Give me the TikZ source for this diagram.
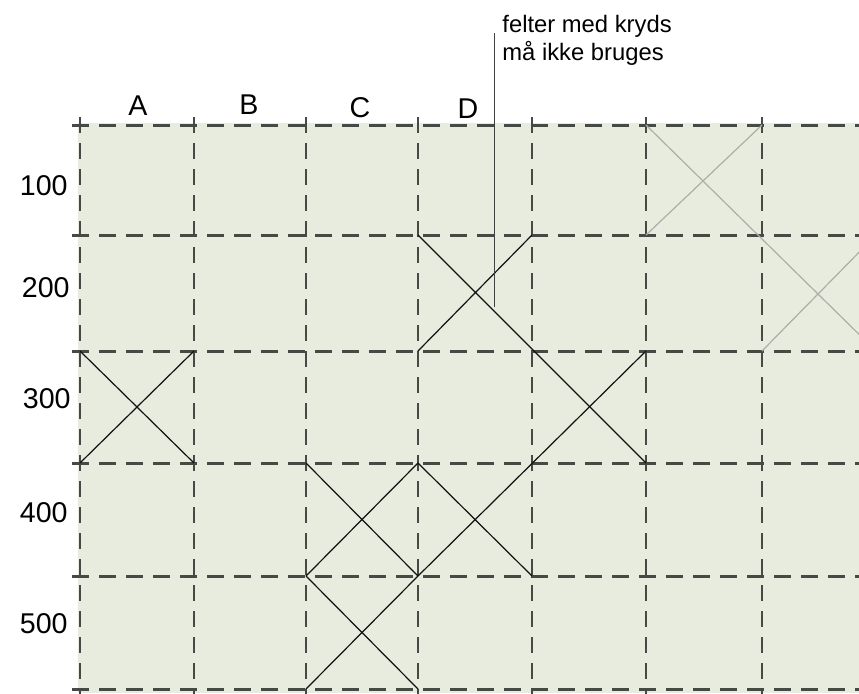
\documentclass[tikz,border=0pt]{standalone}
\usepackage{fontspec}
\setmainfont{Liberation Sans}
\usetikzlibrary{positioning}
\definecolor{paper}{HTML}{E7ECDE}
\definecolor{rule}{HTML}{454A45}
\definecolor{ink}{HTML}{111111}
\definecolor{faint}{HTML}{A9B0A7}

\begin{document}
\begin{tikzpicture}[
  x=0.5pt,y=-0.5pt,
  hrule/.style={draw=rule,line width=1.5pt,dash pattern=on 8.5pt off 5pt},
  vrule/.style={draw=rule,line width=1pt,dash pattern=on 8pt off 5pt},
  cross/.style={draw=ink,line width=0.6pt},
  oldcross/.style={draw=faint,line width=0.6pt},
  lbl/.style={font=\fontsize{14.3}{16}\selectfont,inner sep=0pt},
  note/.style={font=\fontsize{11.9}{14}\selectfont,inner sep=0pt,anchor=base west},
  lead/.style={draw=ink!80,line width=0.5pt}
]
\useasboundingbox (0,0) rectangle (859,693);
\clip (0,0) rectangle (859,693);
\fill[paper] (78,123) rectangle (859,693);
% grid points g<col><row>
\foreach \c/\x in {0/80,1/194,2/306,3/418,4/532,5/646,6/762,7/876}
  \foreach \r/\y in {0/125,1/235,2/351,3/463,4/576,5/689}
    \coordinate (g\c\r) at (\x,\y);
% dashed grid
\foreach \c in {0,...,6}
  \draw[vrule] ([yshift=4pt]g\c0) -- ([yshift=-6pt]g\c5);
\foreach \r in {0,...,5}
  \draw[hrule] ([xshift=-4pt]g0\r) -- (g7\r);
% crossed fields
\draw[cross] (g02) -- (g13) (g03) -- (g12);
\draw[cross] (g31) -- (g53) (g32) -- (g41);
\draw[cross] (g52) -- (g34) (g33) -- (g44);
\draw[cross] (g23) -- (g34) (g24) -- (g33);
\draw[cross] (g24) -- (g35) (g34) -- (g25);
\draw[oldcross] (g50) -- (g72) (g51) -- (g60) (g62) -- (g71);
% column and row labels
\node[lbl,anchor=base] (colA) at (138,115) {A};
\node[lbl,anchor=base] (colB) at (249,114) {B};
\node[lbl,anchor=base] (colC) at (360,117) {C};
\node[lbl,anchor=base] (colD) at (468,118) {D};
\node[lbl,anchor=base east] (row1) at (68,195) {100};
\node[lbl,anchor=base east] (row2) at (70,297) {200};
\node[lbl,anchor=base east] (row3) at (71,408) {300};
\node[lbl,anchor=base east] (row4) at (68,522) {400};
\node[lbl,anchor=base east] (row5) at (68,633) {500};
% note
\node[note] (note1) at (502,32) {felter med kryds};
\node[note] (note2) at (502,60) {må ikke bruges};
\coordinate (leadtop) at (494,33);
\coordinate (leadtip) at (494,307);
\draw[lead] (leadtop) -- (leadtip);
\end{tikzpicture}
\end{document}
